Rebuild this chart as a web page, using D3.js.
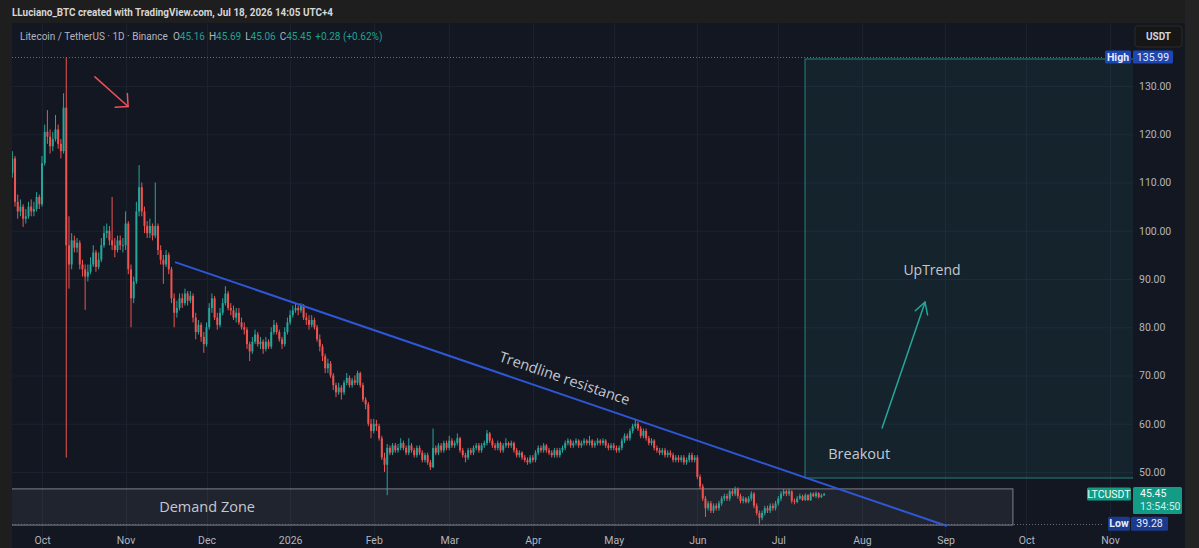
<!DOCTYPE html>
<html><head><meta charset="utf-8">
<script src="https://cdn.jsdelivr.net/npm/d3@7"></script>
<style>html,body{margin:0;padding:0;background:#1e1e1e;overflow:hidden}svg{display:block}</style>
</head><body><svg id="c" width="1199" height="548"></svg>
<script>
// ---------------- DATA ----------------
const startDate = "2025-09-20";
const firstOpen = 112;
const closesSep = [115,106,104,105,102.5,103,105,104,104.5,107,105.5];
const closesOct = [114,120.5,119.5,117.5,119,121,118,116.5,125.5,97,93,98,96.5,97.5,93,92,90.5,91.5,93,95.5,92.5,94,97,99.5,100,98,97,96,98,97,97];
const closesNov = [101.5,92,86,89.5,104,109,104,101,99.5,101,99,101,96,94,93,95,92,86,83,84,86,85,87,85.5,86.5,82,79,80.5,78,76.5];
const closesDec = [80,84,86,82,80.5,83,85,87,84,83.5,82,83,81,80,79.5,76.5,75,77,78.5,76.5,77,75.5,77,76,79,80.5,79,77.5,76.5,79,81];
const closesJan = [82.5,83.5,84,83.5,84.5,82,81.5,80.5,81.5,80,77.5,76,74,71.5,72.5,70,68,66.5,67.5,66.5,68.5,69.5,68,69,68.5,70.5,68,65,64,60,58.5];
const closesFeb = [60,59.5,57,53,51.5,55,54,55.5,54.5,55,56,55,54,55.5,54.5,53.5,55,54,52.5,53.5,52,51,55,54,55.5,54.5,56,55];
const closesMar = [56.5,55.5,56,57,54.5,53.5,53,54.5,54,55,55.5,54.5,55.5,56,58,56.5,55.5,55,56,54.5,55.5,56,55.5,56,54.5,53.5,54,53,52.5,52,53];
const closesApr = [52.5,54,55,54.5,55.5,54.5,54,53.5,54.5,53.5,54.5,55,56,56.5,55.5,56,56.5,55.5,56,56.5,56,56.5,55.5,56,56.5,56,56.5,55.5,55,55.5];
const closesMay = [55,54.5,55,56.5,57.5,57,58.5,59.5,60,59,57.5,58.5,57,56,56.5,55,54.5,54,54.5,53.5,54,53.5,52.5,53,52.5,53,52,52.5,53.5,52.5,53];
const closesJun = [49,47,44.5,42.5,43.5,42,43,42.5,43.5,44.5,45,44.5,46,45.5,46.5,45,44,44.5,43.8,44.5,45.5,43,41.5,40.5,41.5,42.5,42,43,42.5,43.5];
const closesJul = [44.5,45.5,46,45.5,46,44,43.8,44.5,45,44.2,45.2,44.2,45.5,45,45.6,44.8,45.16,45.45];

const highsSep = [116.5,115.5,107.5,106.5,105.5,104.5,106,106.5,106,108,107.5];
const highsOct = [115.5,122,125,121,120.5,124,122,119,128.5,135.99,103,99.5,99,98.5,98,94,93,93,94.5,97,96,95.5,98.5,101,101.5,101,107,98.5,99,99,98.5];
const highsNov = [104,102,93,90.5,106,113.6,110,105,102,102.5,101.5,110,101.5,97,95,96,95.5,92.5,87,85.5,87,87,88,87.5,87.5,87,83,81.5,81,79];
const highsDec = [81,85,87,86.5,83,84,86,88.5,87.5,85,84.5,84,84,82,81,80,77,78,79.5,79,78,77.5,78,77.5,80,81.5,81,79.5,78,80,82];
const highsJan = [83.5,84.5,85,84.5,85,84.8,83,82.5,82.5,82,80.5,78.5,76.5,74.5,73.5,73,70.5,68.5,68.5,68,69,70.5,70,69.5,70,71,70.8,68.5,65.5,64.5,61];
const highsFeb = [61,60.8,60,57.5,54,55.8,55.5,56,56,55.8,57,56.5,55.5,57,56,55,55.5,55.5,54.5,54,54,52.5,59,55.5,56,56,56.5,56.5];
const highsMar = [57.5,57,56.5,58,57.3,55,54,55,55,55.5,56,56,56,56.5,58.7,58.3,57,56,56.5,56.3,56,57,56.3,56.5,56.3,55,54.5,54.3,53.5,53,53.5];
const highsApr = [53.5,54.5,55.5,55.5,56,55.8,55,54.5,55,55,55,55.5,56.5,57,56.8,56.5,57,56.8,56.5,57,56.8,57.5,56.8,56.5,57,56.8,57,56.8,56,56];
const highsMay = [56,55.5,55.5,57,58,58,59,60,60.8,60.5,59.5,59,59,57.5,57,56.8,55.5,55,55,55,54.5,54.5,54,53.5,53.5,53.5,53.5,53,54,54,53.5];
const highsJun = [53.5,49.5,47.5,45,44,44,43.5,43.5,44,45,45.5,45.5,46.3,46.5,47,46.8,45.5,45,44.8,45,46,45.8,43.5,42,42,43,43,43.5,43.5,44];
const highsJul = [45,46,46.5,46.3,46.5,46.2,44.5,45,45.5,45.3,45.6,45.4,45.8,45.8,46,45.8,45.5,45.69];

const lowsSep = [111,105,102.5,103,100.8,101.5,102.5,103,103,104,104.5];
const lowsOct = [105,113.5,118,116,116.5,118.5,117,115,116,53,88,92,95.5,95.5,92,90.5,83.6,89.5,91,92.5,91.5,92,93.5,96.5,98.5,97,96,94.5,95.5,96,95.5];
const lowsNov = [96,91,80,85,89,103,103,99.5,98.5,98.5,98,98.5,95,93,89,92.5,91,85,80,82,83.5,84,84.5,84.5,85,81,77.5,78.5,77,74.7];
const lowsDec = [76,79.5,83,81.5,79.5,80,82.5,84.5,83.5,82.5,81.5,81,80.5,79.5,78.5,75.5,73,74.5,76.5,76,75.5,74.5,75,75.5,75.5,78.5,78.5,77,75.5,76,78.5];
const lowsJan = [80.5,82,83,82.5,83,81.5,80.5,79.5,80,79.5,77,75,73,70.5,70.5,69.5,67,65.5,66,65,66,68,67.5,67.5,68,68,67.5,64.5,63,59.5,57];
const lowsFeb = [58,58.5,56.5,52.5,50,45.2,53.5,53.5,54,54,54.5,54.5,53.5,53.5,54,53,53,53.5,52,52,51.5,50.4,50.8,53.5,53.5,54,54,54.5];
const lowsMar = [54.5,55,55,55.5,54,53,52,52.5,53.5,53.5,54.5,54,54,55,55.5,56,55,54.5,54.5,54,54,55,55,55,54,53,53,52.5,52,51.5,51.7];
const lowsApr = [52,52,53.5,54,54,54,53.5,53,53,53,53,54,54.5,55.5,55,55,55.5,55,55,55.5,55.5,55.5,55,55,55.5,55.5,55.5,55,54.5,54.5];
const lowsMay = [54.5,54,54,54.5,56,56.5,56.5,58,59,58.5,57,57,56.5,55.5,55.5,54.5,54,53.5,53.5,53,53,53,52,52,52,52,51.5,51.5,52,52,52];
const lowsJun = [48.5,46.5,44,40.7,42,41.5,41.5,42,42,43,44,44,44,45,45,44.5,43.5,43.5,43.5,43.5,44,42.5,41,39.28,40,41,41.5,41.5,42,42];
const lowsJul = [43,44,45,45,45,43.5,43.3,43.5,44.3,44,44,44,44,44.8,44.6,44.5,44.6,45.06];

const priceTicks = [50,60,70,80,90,100,110,120,130];
const monthTicks = ["2025-10-01","2025-11-01","2025-12-01","2026-01-01","2026-02-01","2026-03-01","2026-04-01","2026-05-01","2026-06-01","2026-07-01","2026-08-01","2026-09-01","2026-10-01","2026-11-01"];
const monthLabels = ["Oct","Nov","Dec","2026","Feb","Mar","Apr","May","Jun","Jul","Aug","Sep","Oct","Nov"];
const highValue = 135.99, lowValue = 39.28, lastValue = 45.45;
const trendline = [["2025-11-19T08:00Z",93.5],["2026-09-01T14:00Z",38.8]];
const targetBox = {x0:"2026-07-10T22:00Z", x1:"2026-12-31", top:135.6, bottom:48.76};
const demandZone = {x0:"2025-09-01", x1:"2026-09-26T00:00Z", top:46.5, bottom:39.0};
const redArrow = [["2025-10-20T15:00Z",131.9],["2025-11-01T22:00Z",125.75]];
const tealArrow = [["2026-08-08T12:00Z",59.1],["2026-08-24T10:00Z",85.2]];
const labelUptrend = ["UpTrend","2026-08-27T00:00Z",91.9];
const labelBreakout = ["Breakout","2026-07-31T00:00Z",53.9];
const labelDemand = ["Demand Zone","2025-12-01T05:00Z",42.95];
const labelTrend = ["Trendline resistance","2026-04-12T20:00Z",69.5];

// ---------------- BUILD ----------------
const closes = [].concat(closesSep,closesOct,closesNov,closesDec,closesJan,closesFeb,closesMar,closesApr,closesMay,closesJun,closesJul);
const highs = [].concat(highsSep,highsOct,highsNov,highsDec,highsJan,highsFeb,highsMar,highsApr,highsMay,highsJun,highsJul);
const lows = [].concat(lowsSep,lowsOct,lowsNov,lowsDec,lowsJan,lowsFeb,lowsMar,lowsApr,lowsMay,lowsJun,lowsJul);
const t0 = new Date(startDate + "T00:00Z");
const candles = closes.map((c,i)=>({
  date: d3.utcDay.offset(t0, i),
  open: i===0 ? firstOpen : closes[i-1],
  close: c, high: highs[i], low: lows[i]
}));

const W=1199, H=548;
const plot = {l:12, r:1133, t:23, b:548};
const svg = d3.select("#c");
const x = d3.scaleUtc().domain([new Date("2025-10-01T00:00Z"), new Date("2026-11-01T00:00Z")]).range([42,1110]);
const y = d3.scaleLinear().domain([50,130]).range([472,86]);
const P = d => new Date(d);

// backgrounds
svg.append("rect").attr("width",W).attr("height",H).attr("fill","#1e1e1e");
svg.append("rect").attr("x",plot.l).attr("y",plot.t).attr("width",1185-plot.l).attr("height",H-plot.t).attr("fill","#131722");

const defs = svg.append("defs");
defs.append("clipPath").attr("id","clip").append("rect").attr("x",plot.l).attr("y",plot.t).attr("width",plot.r-plot.l).attr("height",H-plot.t);

// grid
const grid = svg.append("g").attr("clip-path","url(#clip)");
grid.selectAll("line.h").data(priceTicks).join("line")
  .attr("x1",plot.l).attr("x2",plot.r).attr("y1",d=>y(d)+0.5).attr("y2",d=>y(d)+0.5)
  .attr("stroke","#1c2130").attr("stroke-width",1);
grid.selectAll("line.v").data(monthTicks).join("line")
  .attr("x1",d=>Math.round(x(P(d)))+0.5).attr("x2",d=>Math.round(x(P(d)))+0.5).attr("y1",plot.t).attr("y2",H)
  .attr("stroke","#1c2130").attr("stroke-width",1);

const g = svg.append("g").attr("clip-path","url(#clip)");

// target box
g.append("rect")
  .attr("x",x(P(targetBox.x0))).attr("y",y(targetBox.top))
  .attr("width",x(P(targetBox.x1))-x(P(targetBox.x0))).attr("height",y(targetBox.bottom)-y(targetBox.top))
  .attr("fill","rgba(38,166,154,0.09)").attr("stroke","#1f8a7e").attr("stroke-opacity",0.8).attr("stroke-width",1.2);

// demand zone
g.append("rect")
  .attr("x",x(P(demandZone.x0))).attr("y",y(demandZone.top))
  .attr("width",x(P(demandZone.x1))-x(P(demandZone.x0))).attr("height",y(demandZone.bottom)-y(demandZone.top))
  .attr("fill","rgba(150,155,170,0.10)").attr("stroke","#7d808a").attr("stroke-width",1);

// high / low dotted lines
[highValue, lowValue].forEach(v=>{
  svg.append("line").attr("x1",plot.l).attr("x2",1104).attr("y1",Math.round(y(v))+0.5).attr("y2",Math.round(y(v))+0.5)
    .attr("stroke","#6a6d78").attr("stroke-dasharray","1,2").attr("stroke-width",1);
});

// candles
const upC="#26a69a", dnC="#ef5350";
const cg = g.append("g");
cg.selectAll("line.w").data(candles).join("line")
  .attr("x1",d=>x(d.date)).attr("x2",d=>x(d.date))
  .attr("y1",d=>y(d.high)).attr("y2",d=>y(d.low))
  .attr("stroke",d=>d.close>=d.open?upC:dnC).attr("stroke-width",1);
cg.selectAll("rect.b").data(candles).join("rect")
  .attr("x",d=>x(d.date)-1).attr("width",2)
  .attr("y",d=>y(Math.max(d.open,d.close)))
  .attr("height",d=>Math.max(0.8, Math.abs(y(d.open)-y(d.close))))
  .attr("fill",d=>d.close>=d.open?upC:dnC);

// trendline
const tl = trendline.map(p=>[x(P(p[0])), y(p[1])]);
g.append("line").attr("x1",tl[0][0]).attr("y1",tl[0][1]).attr("x2",tl[1][0]).attr("y2",tl[1][1])
  .attr("stroke","#2e57d6").attr("stroke-width",2);
const ang = Math.atan2(tl[1][1]-tl[0][1], tl[1][0]-tl[0][0])*180/Math.PI;

// arrows
function arrow(pts, color, headLen, headAng, sw){
  const a = pts.map(p=>[x(P(p[0])), y(p[1])]);
  g.append("line").attr("x1",a[0][0]).attr("y1",a[0][1]).attr("x2",a[1][0]).attr("y2",a[1][1])
    .attr("stroke",color).attr("stroke-width",sw).attr("stroke-linecap","round");
  const th = Math.atan2(a[0][1]-a[1][1], a[0][0]-a[1][0]);
  [headAng,-headAng].forEach(h=>{
    g.append("line").attr("x1",a[1][0]).attr("y1",a[1][1])
      .attr("x2",a[1][0]+headLen*Math.cos(th+h)).attr("y2",a[1][1]+headLen*Math.sin(th+h))
      .attr("stroke",color).attr("stroke-width",sw).attr("stroke-linecap","round");
  });
}
arrow(redArrow, "#f0505c", 13, Math.PI/4, 1.5);
arrow(tealArrow, "#26a69a", 13, Math.PI/6, 1.5);

// annotation texts
function label(l, size, rot){
  const px=x(P(l[1])), py=y(l[2]);
  g.append("text").attr("x",px).attr("y",py).attr("text-anchor","middle").attr("dominant-baseline","central")
    .attr("transform", rot?`rotate(${rot},${px},${py})`:null)
    .attr("font-family","'Open Sans', sans-serif").attr("font-size",size).attr("fill","#c5c8cf").text(l[0]);
}
label(labelUptrend,14);
label(labelBreakout,14.5);
label(labelDemand,14.5);
label(labelTrend,14.5,ang);

// price axis
const yAxis = d3.axisRight(y).tickValues(priceTicks).tickFormat(d3.format(".2f")).tickSize(0).tickPadding(6);
const ya = svg.append("g").attr("transform",`translate(${plot.r},0)`).call(yAxis);
ya.select(".domain").remove();
ya.selectAll("text").attr("font-family","Roboto, sans-serif").attr("font-size",10.5).attr("fill","#b2b5be");

// time axis
const xAxis = d3.axisBottom(x).tickValues(monthTicks.map(P)).tickFormat((d,i)=>monthLabels[i]).tickSize(0).tickPadding(0);
const xa = svg.append("g").attr("transform",`translate(0,537)`).call(xAxis);
xa.select(".domain").remove();
xa.selectAll("text").attr("dy","0.71em").attr("font-family","Roboto, sans-serif").attr("font-size",10.5).attr("fill","#b2b5be");

// price labels on axis
function tag(x0,w,yc,h,fill,lines,color,bold){
  svg.append("rect").attr("x",x0).attr("y",yc-h/2).attr("width",w).attr("height",h).attr("rx",1.5).attr("fill",fill);
  lines.forEach((t,i)=>{
    svg.append("text").attr("x",x0+w/2).attr("y",yc-h/2+7+i*13).attr("text-anchor","middle").attr("dominant-baseline","central")
      .attr("font-family","Roboto, sans-serif").attr("font-size",10.5).attr("font-weight",bold?"bold":"normal").attr("fill",color).text(t);
  });
}
const yHi=y(highValue), yLo=y(lowValue), yLast=y(lastValue);
tag(1105,26,yHi,13,"#1d46b0",["High"],"#e6ecff",true);
tag(1133,40,yHi,13,"#1d46b0",[d3.format(".2f")(highValue)],"#e6ecff",false);
tag(1108,22,yLo,14,"#1c3a8c",["Low"],"#e6ecff",true);
tag(1131,37,yLo,14,"#1c3a8c",[d3.format(".2f")(lowValue)],"#e6ecff",false);
tag(1087,44,yLast,13,"#139b86",["LTCUSDT"],"#f0fff9",false);
svg.append("rect").attr("x",1133).attr("y",yLast-7).attr("width",49).attr("height",27).attr("rx",1.5).attr("fill","#139b86");
svg.append("text").attr("x",1140).attr("y",yLast).attr("dominant-baseline","central").attr("font-family","Roboto, sans-serif").attr("font-size",10.5).attr("fill","#f0fff9").text(d3.format(".2f")(lastValue));
svg.append("text").attr("x",1140).attr("y",yLast+13).attr("dominant-baseline","central").attr("font-family","Roboto, sans-serif").attr("font-size",10.5).attr("fill","#cdeee7").text("13:54:50");

// USDT box
svg.append("rect").attr("x",1135).attr("y",26).attr("width",47).attr("height",21).attr("rx",3).attr("fill","#161616").attr("stroke","#2a2a2a");
svg.append("text").attr("x",1158.5).attr("y",36.5).attr("text-anchor","middle").attr("dominant-baseline","central")
  .attr("font-family","Roboto, sans-serif").attr("font-size",10).attr("font-weight","bold").attr("fill","#d1d4dc").text("USDT");

// right outer strip
svg.append("rect").attr("x",1185).attr("y",0).attr("width",14).attr("height",H).attr("fill","#232323");

// header
svg.append("text").attr("x",12).attr("y",12).attr("dominant-baseline","central")
  .attr("font-family","Roboto, sans-serif").attr("font-size",11).attr("font-weight","bold").attr("fill","#d6d6d6")
  .attr("textLength",321).attr("lengthAdjust","spacingAndGlyphs")
  .text("LLuciano_BTC created with TradingView.com, Jul 18, 2026 14:05 UTC+4");

// legend
const lg = svg.append("text").attr("x",20).attr("y",36).attr("dominant-baseline","central")
  .attr("font-family","Roboto, sans-serif").attr("font-size",10);
lg.append("tspan").attr("fill","#b2b5be").text("Litecoin / TetherUS · 1D · Binance");
const ohlc = [["O","45.16"],["H","45.69"],["L","45.06"],["C","45.45"]];
ohlc.forEach((p,i)=>{
  lg.append("tspan").attr("fill","#b2b5be").attr("dx", i===0?5:4).text(p[0]);
  lg.append("tspan").attr("fill","#22a190").text(p[1]);
});
lg.append("tspan").attr("fill","#22a190").attr("dx",4).text("+0.28 (+0.62%)");
</script>
</body></html>
